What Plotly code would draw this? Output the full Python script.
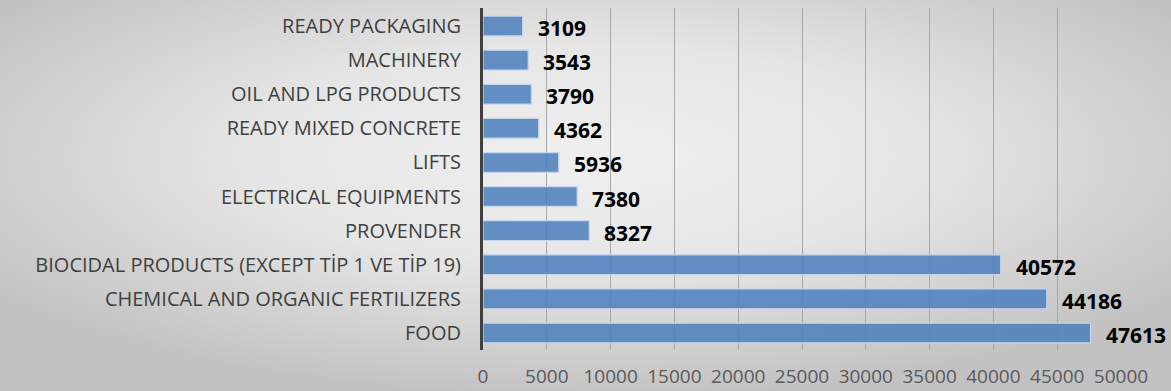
import base64
import plotly.graph_objects as go

categories = [
    "READY PACKAGING",
    "MACHINERY",
    "OIL AND LPG PRODUCTS",
    "READY MIXED CONCRETE",
    "LIFTS",
    "ELECTRICAL EQUIPMENTS",
    "PROVENDER",
    "BIOCIDAL PRODUCTS (EXCEPT TİP 1 VE TİP 19)",
    "CHEMICAL AND ORGANIC FERTILIZERS",
    "FOOD",
]
values = [3109, 3543, 3790, 4362, 5936, 7380, 8327, 40572, 44186, 47613]
x_ticks = [0, 5000, 10000, 15000, 20000, 25000, 30000, 35000, 40000, 45000, 50000]

W, H = 1171, 391
L, R, T, B = 483, 50, 8, 41
pw, ph = W - L - R, H - T - B

svg = (
    '<svg xmlns="http://www.w3.org/2000/svg" width="1171" height="391" viewBox="0 0 100 100" preserveAspectRatio="none">'
    '<defs><radialGradient id="g" cx="0.5" cy="0.4" r="0.62">'
    '<stop offset="0" stop-color="#efefef"/><stop offset="0.45" stop-color="#e6e6e6"/>'
    '<stop offset="1" stop-color="#c2c2c2"/></radialGradient></defs>'
    '<rect x="0" y="0" width="100" height="100" fill="url(#g)"/></svg>'
)
src = "data:image/svg+xml;base64," + base64.b64encode(svg.encode()).decode()

fig = go.Figure()
fig.add_trace(go.Bar(
    y=categories,
    x=values,
    orientation="h",
    width=0.58,
    marker=dict(color="rgba(79,129,189,0.88)", line=dict(color="#c6d6ea", width=1.2)),
    hoverinfo="x+y",
))

for c, v in zip(categories, values):
    fig.add_annotation(
        x=v, y=c, text=f"<b>{v}</b>", showarrow=False,
        xanchor="left", yanchor="middle", xshift=13, yshift=-2,
        font=dict(family="Open Sans", size=21, color="#000000"),
    )

fig.add_layout_image(dict(
    source=src, xref="paper", yref="paper",
    x=-L / pw, y=1 + T / ph, sizex=W / pw, sizey=H / ph,
    xanchor="left", yanchor="top", sizing="stretch", layer="below",
))

fig.update_layout(
    width=W, height=H,
    margin=dict(l=L, r=R, t=T, b=B, pad=0, autoexpand=False),
    paper_bgcolor="#d4d4d4",
    plot_bgcolor="rgba(0,0,0,0)",
    showlegend=False,
    xaxis=dict(
        range=[0, 50000], tickvals=x_ticks, ticktext=[str(t) for t in x_ticks],
        showgrid=True, gridcolor="#a8a8a8", gridwidth=1,
        zeroline=False, showline=False,
        tickfont=dict(family="Open Sans", size=19, color="#595959"),
        ticks="", ticklabelstandoff=13, automargin=False,
        fixedrange=True,
    ),
    yaxis=dict(
        autorange="reversed",
        showgrid=False, zeroline=False,
        showline=True, linecolor="#404040", linewidth=3,
        tickfont=dict(family="Open Sans", size=20, color="#404040"),
        ticks="", ticklabelstandoff=15, automargin=False,
        fixedrange=True,
    ),
)

fig.write_html(
    "out.html",
    post_script="document.body.style.margin='0';document.body.style.overflow='hidden';",
)
